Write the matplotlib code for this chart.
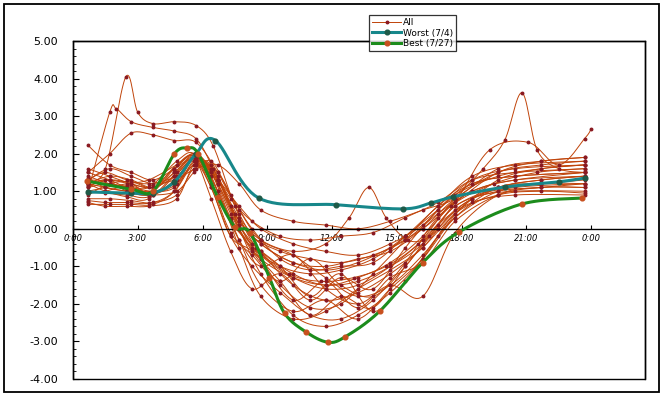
"""Daily profile chart: all days, worst day and best day (Excel-style smoothed lines)."""

import matplotlib

matplotlib.use("Agg")

import matplotlib.pyplot as plt
import numpy as np
from matplotlib.lines import Line2D
from matplotlib.patches import Rectangle
from matplotlib.ticker import FuncFormatter, MultipleLocator

# --- data -------------------------------------------------------------------
# two sampling grids used by the "All" days (alternating rows)
ALL_HOURS_A = [0.7, 1.7, 2.7, 3.7, 4.7, 5.7, 6.7, 7.7, 8.7, 10.2, 11.7, 13.2,
               14.7, 16.2, 17.7, 19.7, 21.7, 23.7]
ALL_HOURS_B = [0.7, 1.5, 2.5, 3.5, 4.8, 5.6, 6.4, 7.3, 8.3, 9.6, 11.0, 12.4,
               13.9, 15.4, 16.9, 18.5, 20.5, 23.7]

ALL_VALUES = [
    [1.27, 1.20, 1.10, 1.00, 1.60, 2.00, 1.20, 0.00, -0.80, -1.30, -1.50, -1.40, -1.00, -0.40, 0.60, 1.00, 1.10, 1.20],
    [1.00, 0.95, 0.90, 0.85, 1.30, 1.90, 1.50, 0.30, -0.50, -1.00, -1.20, -1.10, -0.80, -0.20, 0.50, 1.20, 1.40, 1.50],
    [0.65, 0.65, 0.65, 0.65, 1.00, 1.85, 1.40, 0.10, -0.80, -1.90, -1.40, -2.10, -1.30, -0.90, 0.20, 0.90, 1.10, 1.10],
    [0.70, 0.60, 0.60, 0.60, 0.80, 1.70, 1.70, 0.60, -0.20, -0.60, -0.80, -0.90, -0.70, -0.30, 0.40, 1.00, 1.30, 1.40],
    [1.60, 1.40, 1.20, 1.10, 1.50, 1.95, 1.00, -0.30, -1.50, -2.20, -1.90, -2.40, -1.60, -0.80, 0.30, 1.10, 1.20, 1.30],
    [1.30, 1.50, 1.30, 1.20, 1.40, 1.80, 1.10, -0.20, -0.60, -1.40, -2.30, -1.80, -2.10, -1.00, 0.00, 0.80, 1.00, 1.00],
    [2.22, 1.70, 1.50, 1.30, 1.60, 2.00, 1.30, 0.20, -0.40, -0.90, -1.00, -0.80, -0.60, 0.00, 0.80, 1.50, 1.70, 1.80],
    [1.10, 1.30, 1.00, 0.90, 1.20, 1.90, 1.60, 0.80, 0.20, -0.20, -0.30, -0.20, -0.10, 0.30, 0.70, 1.30, 1.50, 1.60],
    [0.80, 0.80, 0.75, 0.70, 1.00, 1.75, 1.30, 0.00, -1.20, -2.30, -2.60, -2.30, -1.70, -0.80, 0.40, 0.90, 1.00, 0.95],
    [1.20, 1.10, 1.00, 0.95, 1.70, 1.90, 0.80, -0.60, -1.60, -1.20, -1.90, -1.30, -1.60, -0.50, 0.50, 1.30, 1.60, 1.70],
    [1.40, 1.20, 1.10, 1.00, 1.10, 1.80, 1.50, 0.50, -0.30, -0.70, -1.30, -1.80, -1.50, -0.70, 0.30, 1.00, 1.20, 1.20],
    [0.95, 1.00, 1.15, 1.10, 1.80, 2.00, 1.20, -0.10, -0.70, -1.40, -0.80, -1.50, -1.80, -1.00, 0.10, 0.70, 0.90, 0.90],
    [1.30, 1.60, 1.40, 1.20, 1.30, 1.60, 1.70, 1.20, 0.50, 0.20, 0.10, 0.00, 0.20, 0.50, 0.80, 1.60, 1.80, 1.90],
    [0.75, 0.70, 0.70, 0.68, 0.90, 1.60, 1.50, 0.40, -0.60, -1.50, -2.10, -2.00, -1.20, -0.30, 0.60, 1.20, 1.40, 1.50],
    [1.15, 1.30, 1.20, 0.90, 1.40, 1.85, 1.00, -0.50, -1.80, -2.40, -2.20, -1.60, -1.10, -0.50, 0.50, 1.10, 1.30, 1.40],
    [1.00, 1.10, 1.20, 1.30, 1.70, 1.95, 1.40, 0.20, -0.40, -1.00, -1.80, -1.20, -2.20, -1.40, -0.20, 0.80, 1.10, 1.20],
    [1.50, 1.30, 1.05, 1.00, 1.20, 1.70, 1.30, 0.60, 0.00, -0.40, -0.60, -0.70, -0.40, 0.10, 0.90, 1.40, 1.60, 1.70],
    [1.20, 1.00, 0.85, 0.80, 1.50, 1.90, 1.10, -0.20, -1.00, -1.70, -2.30, -2.40, -1.90, -0.90, 0.30, 1.00, 1.30, 1.50],
    [0.90, 1.20, 1.25, 1.10, 1.60, 1.80, 0.90, -0.30, -1.00, -0.70, -1.60, -2.00, -1.50, -1.80, -0.10, 0.90, 1.10, 1.10],
    [1.35, 1.10, 1.00, 0.90, 1.00, 1.50, 1.80, 0.90, 0.00, -0.80, -1.10, -1.00, -0.90, -0.20, 0.60, 1.40, 1.70, 1.80],
    [1.50, 2.00, 2.55, 2.50, 2.35, 2.30, 1.50, 0.40, -0.60, -1.50, -1.90, -1.70, -1.20, -0.50, 0.40, 1.30, 1.60, 1.70],
]

# days that do not follow the common sampling grids
SPIKE_AM_HOURS = [0.7, 1.5, 2.45, 3.0, 3.7, 4.7, 5.7, 6.5, 7.5, 8.5, 10.0, 11.5, 13.0, 14.5, 16.0, 17.5, 19.5, 21.5, 23.7]
SPIKE_AM_VALUES = [1.30, 1.60, 4.05, 3.10, 2.80, 2.85, 2.75, 2.20, 0.60, -0.50, -1.20, -1.40, -1.30, -1.00, -0.40, 0.60, 1.20, 1.50, 1.60]

HIGH_AM_HOURS = [0.7, 1.7, 2.0, 2.7, 3.7, 4.7, 5.7, 6.5, 7.5, 8.7, 10.2, 11.7, 13.2, 14.7, 16.2, 17.7, 19.7, 21.7, 23.7]
HIGH_AM_VALUES = [1.00, 3.10, 3.20, 2.85, 2.70, 2.60, 2.40, 1.60, 0.40, -0.40, -0.90, -1.10, -0.90, -0.50, 0.00, 0.70, 1.50, 1.80, 1.90]

NOON_BUMP_HOURS = [0.7, 1.7, 2.7, 3.7, 4.7, 5.7, 6.7, 7.7, 8.7, 10.2, 11.7, 12.8, 13.7, 14.5, 15.5, 16.5, 17.7, 19.7, 21.7, 23.7]
NOON_BUMP_VALUES = [1.10, 1.20, 1.00, 0.90, 1.30, 1.90, 1.30, 0.30, -0.30, -0.60, -0.40, 0.30, 1.10, 0.30, -0.30, -0.20, 0.60, 1.10, 1.30, 1.40]

SPIKE_PM_HOURS = [0.7, 1.7, 3.7, 4.7, 5.7, 6.7, 7.7, 8.7, 10.2, 11.7, 13.2, 14.7, 16.2, 17.7, 19.0, 20.0, 20.8, 21.5, 22.5, 23.7]
SPIKE_PM_VALUES = [1.20, 1.30, 1.10, 1.50, 1.90, 1.20, 0.10, -0.60, -1.20, -1.50, -1.30, -0.90, -0.20, 0.80, 1.60, 2.36, 3.62, 2.10, 1.60, 1.50]

LATE_RISE_HOURS = [0.7, 1.7, 2.7, 3.7, 4.7, 5.7, 6.7, 7.7, 8.7, 10.2, 11.7, 13.2, 14.7, 16.2, 17.7, 19.3, 21.1, 22.5, 23.7, 24.0]
LATE_RISE_VALUES = [1.20, 1.40, 1.30, 1.10, 1.40, 1.90, 1.30, 0.10, -0.70, -1.30, -1.60, -1.50, -1.00, -0.30, 0.70, 2.10, 2.30, 1.70, 2.40, 2.65]

WORST_HOURS = [0.7, 2.7, 3.7, 4.7, 5.7, 6.6, 8.6, 12.2, 15.3, 16.6, 17.6, 20.0, 22.5, 23.7]
WORST_VALUES = [0.98, 0.95, 0.95, 1.25, 2.00, 2.35, 0.82, 0.64, 0.53, 0.69, 0.85, 1.11, 1.25, 1.35]

BEST_HOURS = [0.65, 2.7, 3.7, 4.7, 5.3, 5.8, 6.7, 7.5, 8.2, 9.1, 9.8, 10.8, 11.8, 12.6, 14.2, 16.2, 17.9, 20.8, 23.6]
BEST_VALUES = [1.27, 1.05, 1.00, 2.00, 2.15, 2.00, 0.85, 0.05, -0.10, -1.30, -2.25, -2.75, -3.02, -2.88, -2.20, -0.90, -0.08, 0.66, 0.82]

HOUR_TICKS = [0, 3, 6, 9, 12, 15, 18, 21, 24]

ALL_COLOR = "#C0440A"
ALL_MARKER = "#8A1A22"
WORST_COLOR = "#17878A"
WORST_MARKER = "#1F5A48"
BEST_COLOR = "#1C8C1C"
BEST_MARKER = "#C8501E"


def smooth(xs, ys, steps=16):
    """Excel-like smoothed line: cubic Bezier through every point."""
    p = np.column_stack([xs, ys]).astype(float)
    p = np.vstack([p[0], p, p[-1]])
    t = np.linspace(0, 1, steps)[:, None]
    parts = []
    for i in range(1, len(p) - 2):
        p0, p1, p2, p3 = p[i - 1], p[i], p[i + 1], p[i + 2]
        c1 = p1 + (p2 - p0) / 6
        c2 = p2 - (p3 - p1) / 6
        seg = (1 - t) ** 3 * p1 + 3 * (1 - t) ** 2 * t * c1 + 3 * (1 - t) * t ** 2 * c2 + t ** 3 * p2
        parts.append(seg if i == 1 else seg[1:])
    return np.vstack(parts)


def draw(ax, xs, ys, color, lw, mcolor, ms, zorder):
    curve = smooth(xs, ys)
    ax.plot(curve[:, 0], curve[:, 1], color=color, lw=lw, zorder=zorder,
            solid_capstyle="round")
    ax.plot(xs, ys, ls="none", marker="o", ms=ms, mfc=mcolor, mec=mcolor,
            zorder=zorder + 0.1)


fig = plt.figure(figsize=(6.64, 3.97), dpi=100)
fig.patch.set_facecolor("white")
ax = fig.add_axes([73 / 664, 18 / 397, 572 / 664, 338 / 397])

for i, row in enumerate(ALL_VALUES):
    hours = ALL_HOURS_A if i % 2 == 0 else ALL_HOURS_B
    draw(ax, hours, row, ALL_COLOR, 0.7, ALL_MARKER, 1.8, 2)
for hrs, vals in [(SPIKE_AM_HOURS, SPIKE_AM_VALUES), (HIGH_AM_HOURS, HIGH_AM_VALUES),
                  (NOON_BUMP_HOURS, NOON_BUMP_VALUES), (SPIKE_PM_HOURS, SPIKE_PM_VALUES),
                  (LATE_RISE_HOURS, LATE_RISE_VALUES)]:
    draw(ax, hrs, vals, ALL_COLOR, 0.7, ALL_MARKER, 1.8, 2)

draw(ax, WORST_HOURS, WORST_VALUES, WORST_COLOR, 2.2, WORST_MARKER, 3.4, 4)
draw(ax, BEST_HOURS, BEST_VALUES, BEST_COLOR, 2.2, BEST_MARKER, 3.4, 5)

ax.set_xlim(0, 26.5)
ax.set_ylim(-4, 5)

# x axis runs along y = 0, the plot area keeps a full box
ax.spines["bottom"].set_position(("data", 0))
for s in ax.spines.values():
    s.set_linewidth(1.0)
ax.add_patch(Rectangle((0, 0), 1, 1, transform=ax.transAxes, fill=False,
                       lw=1.0, ec="black", zorder=6, clip_on=False))

ax.set_xticks(HOUR_TICKS)
ax.xaxis.set_major_formatter(FuncFormatter(lambda h, _: f"{int(h) % 24}:00"))
ax.tick_params(axis="x", direction="in", length=3, pad=4, labelsize=6)
for lab in ax.get_xticklabels():
    lab.set_fontstyle("italic")

ax.yaxis.set_major_locator(MultipleLocator(1.0))
ax.yaxis.set_minor_locator(MultipleLocator(0.2))
ax.yaxis.set_major_formatter(FuncFormatter(lambda v, _: f"{v:.2f}"))
ax.tick_params(axis="y", which="major", direction="in", length=4, pad=11, labelsize=8)
ax.tick_params(axis="y", which="minor", direction="in", length=2)

handles = [
    Line2D([], [], color=ALL_COLOR, lw=0.7, marker="o", ms=1.8, mfc=ALL_MARKER, mec=ALL_MARKER),
    Line2D([], [], color=WORST_COLOR, lw=2.2, marker="o", ms=3.4, mfc=WORST_MARKER, mec=WORST_MARKER),
    Line2D([], [], color=BEST_COLOR, lw=2.2, marker="o", ms=3.4, mfc=BEST_MARKER, mec=BEST_MARKER),
]
leg = fig.legend(handles, ["All", "Worst (7/4)", "Best (7/27)"],
                 loc="upper left", bbox_to_anchor=(369 / 664, 1 - 15 / 397),
                 fontsize=6.5, frameon=True, fancybox=False, edgecolor="black",
                 handlelength=3.2, handletextpad=0.2, labelspacing=0.15,
                 borderpad=0.35, borderaxespad=0)
leg.get_frame().set_linewidth(0.9)
leg.set_zorder(10)

# outer chart border
fig.add_artist(Rectangle((4 / 664, 5 / 397), 655 / 664, 388 / 397,
                         transform=fig.transFigure, fill=False, lw=1.3, ec="black"))

fig.savefig("out.png", dpi=100)
